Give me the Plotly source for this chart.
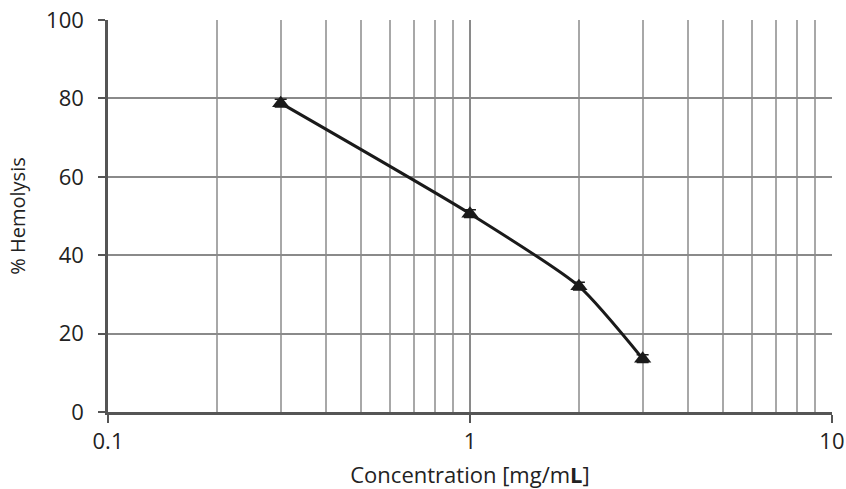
import plotly.graph_objects as go

conc = [0.3, 1, 2, 3]
hemolysis = [78.8, 50.6, 32.1, 13.6]
err = [1.0, 1.0, 1.0, 1.0]
x_ticks = [0.1, 1, 10]
x_tick_labels = ["0.1", "1", "10"]
x_minor = [0.2, 0.3, 0.4, 0.5, 0.6, 0.7, 0.8, 0.9, 2, 3, 4, 5, 6, 7, 8, 9]
y_ticks = [0, 20, 40, 60, 80, 100]

fig = go.Figure()
fig.add_trace(go.Scatter(
    x=conc, y=hemolysis,
    mode="lines+markers",
    line=dict(color="#1a1a1a", width=3, shape="spline", smoothing=0.6),
    marker=dict(symbol="triangle-up", size=15, color="#1a1a1a"),
    error_y=dict(type="data", array=err, color="#1a1a1a", thickness=1.5, width=6),
    showlegend=False,
))

font = "'Open Sans', Lato, sans-serif"
fig.update_layout(
    width=846, height=489,
    margin=dict(l=108, r=14, t=20, b=77),
    paper_bgcolor="white", plot_bgcolor="white",
    font=dict(family=font, color="#222", size=22),
    xaxis=dict(
        type="log", range=[-1, 1.0003], automargin=False,
        tickvals=x_ticks, ticktext=x_tick_labels,
        ticklabeloverflow="allow",
        showgrid=True, gridcolor="#8a8a8a", gridwidth=1.5,
        minor=dict(tickvals=x_minor, showgrid=True, gridcolor="#a8a8a8", gridwidth=1.5, ticks=""),
        showline=True, linecolor="#555", linewidth=2.5,
        ticks="outside", ticklen=8, tickcolor="#555", tickwidth=2,
        zeroline=False,
        tickfont=dict(size=22),
        title=dict(text="Concentration [mg/m<b>L</b>]", font=dict(size=22), standoff=24),
    ),
    yaxis=dict(
        range=[0, 100.02], tickvals=y_ticks, automargin=False,
        ticklabeloverflow="allow",
        showgrid=True, gridcolor="#8a8a8a", gridwidth=1.5,
        showline=True, linecolor="#555", linewidth=2.5,
        ticks="outside", ticklen=7, tickcolor="#555", tickwidth=2,
        ticklabelstandoff=10,
        zeroline=False,
        tickfont=dict(size=22),
        title=dict(text="% Hemolysis", font=dict(size=20), standoff=16),
    ),
)

fig.write_html(
    "out.html",
    config={"displayModeBar": False},
    post_script="document.body.style.margin='0';document.body.style.overflow='hidden';",
)
